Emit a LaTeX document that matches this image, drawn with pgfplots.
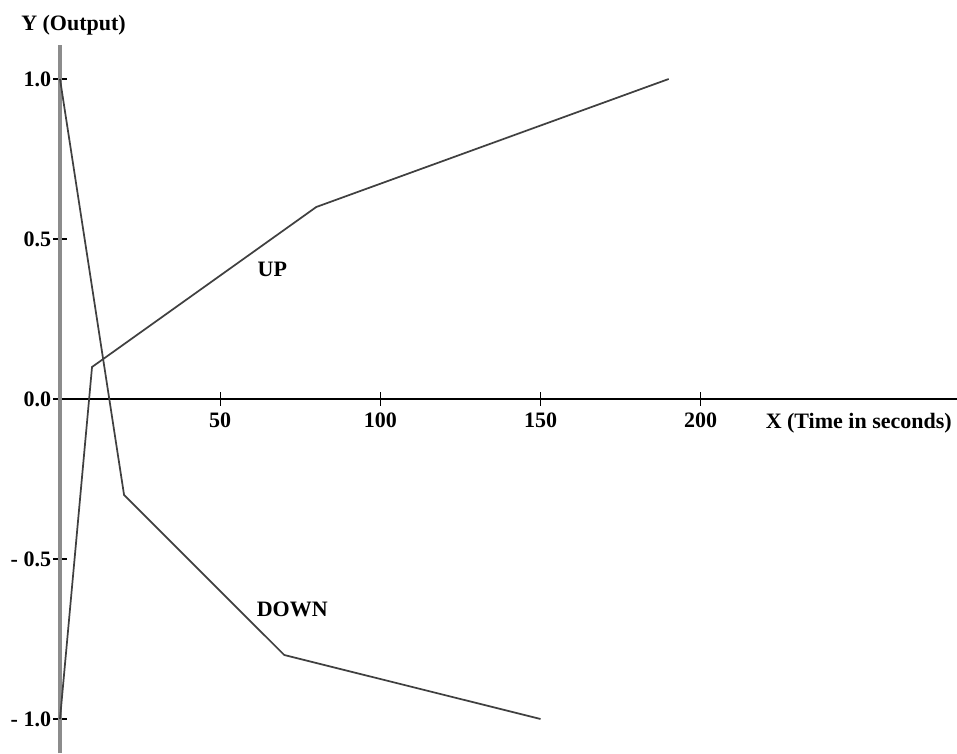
\documentclass[border=0pt]{standalone}
\usepackage{fontspec}
\setmainfont{Liberation Serif}
\usepackage{pgfplots}
\pgfplotsset{compat=1.18}
\begin{document}
\fontsize{16.5}{19}\selectfont\bfseries
\begin{tikzpicture}
\begin{axis}[
  scale only axis, width=672.75pt, height=531pt,
  xmin=0, xmax=280, ymin=-1.10625, ymax=1.10625,
  axis lines=middle,
  axis line style={-},
  every inner x axis line/.append style={draw=black, line width=1pt},
  every inner y axis line/.append style={draw=black!45, line width=2.3pt},
  hide obscured x ticks=false, hide obscured y ticks=false,
  xtick={50,100,150,200}, xticklabels={50,100,150,200},
  ytick={-1,-0.5,0,0.5,1}, yticklabels={- 1.0,- 0.5,0.0,0.5,1.0},
  tick align=center, major tick length=10pt,
  tick style={black, line width=0.8pt},
  xticklabel style={anchor=north, inner sep=0pt, yshift=-5pt},
  yticklabel style={anchor=east, inner sep=0pt, xshift=-1.5pt},
  clip=false,
]
\addplot[black!75, line width=1.3pt] coordinates {(0,-1) (10,0.1) (80,0.6) (190,1.0)};
\addplot[black!75, line width=1.3pt] coordinates {(0,1) (20,-0.3) (70,-0.8) (150,-1.0)};
\node at (axis cs:66.3,0.406) {UP};
\node at (axis cs:72.5,-0.656) {DOWN};
\node[anchor=base west, inner sep=0pt, xshift=-29.25pt, yshift=10.5pt] at (rel axis cs:0,1) {Y (Output)};
\node[anchor=base east, inner sep=0pt, xshift=-3.75pt, yshift=-21.75pt] at (rel axis cs:1,0.5) {X (Time in seconds)};
\coordinate (bl) at (rel axis cs:0,0);
\coordinate (tr) at (rel axis cs:1,1);
\end{axis}
\pgfresetboundingbox
\path[use as bounding box] ([xshift=-45pt]bl) rectangle ([yshift=33.75pt]tr);
\end{tikzpicture}
\end{document}
